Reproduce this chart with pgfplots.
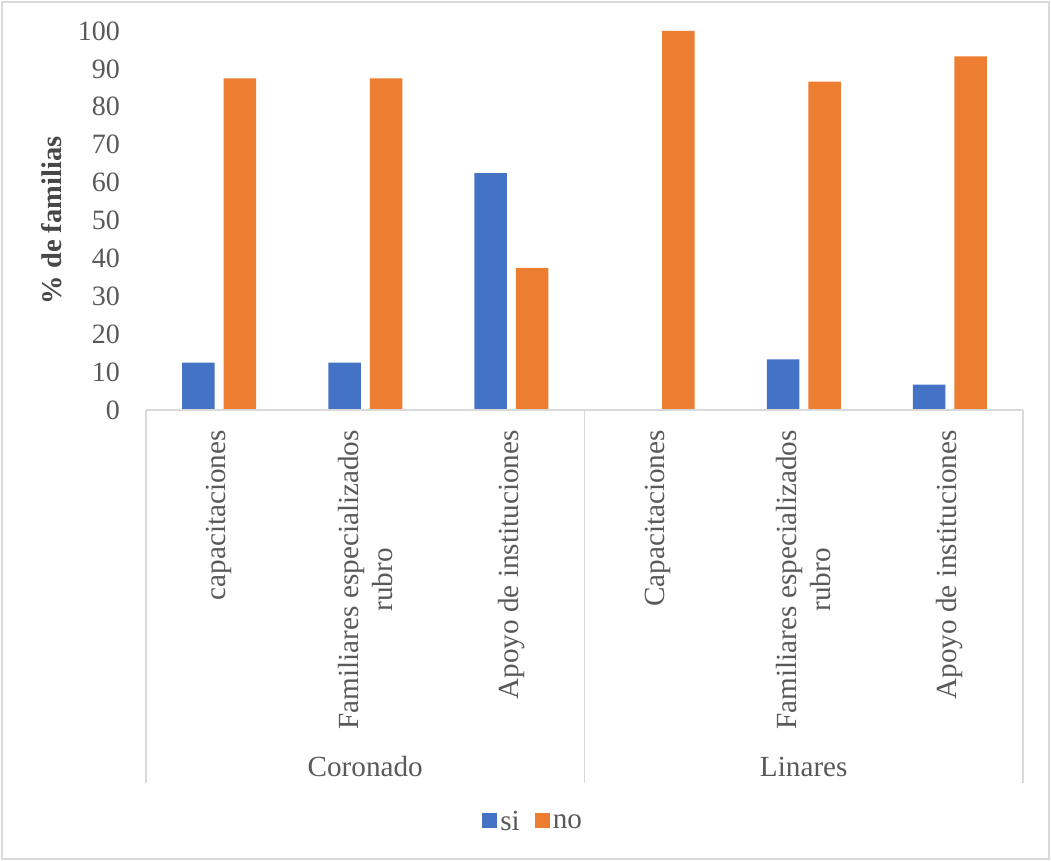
\documentclass[border=0pt]{standalone}
\usepackage{fontspec}
\setmainfont{Liberation Serif}
\usepackage{pgfplots}
\pgfplotsset{compat=1.18}
\definecolor{siblue}{HTML}{4472C4}
\definecolor{noorange}{HTML}{ED7D31}
\definecolor{txtgray}{HTML}{595959}
\definecolor{linegray}{HTML}{D9D9D9}
\newcommand{\tickfont}{\fontsize{28}{33}\selectfont}
\newcommand{\chartfont}{\fontsize{29.2}{34}\selectfont}

\begin{document}
\begin{tikzpicture}
\useasboundingbox (0pt,0pt) rectangle (1051pt,861pt);
\draw[linegray, line width=1.2pt] (2pt,2pt) rectangle (1049pt,859pt);
\begin{axis}[
  at={(146pt,451pt)}, anchor=south west,
  scale only axis, width=877pt, height=379pt,
  xmin=-0.5, xmax=5.5, ymin=0, ymax=100,
  ybar=9pt, bar width=32.5pt,
  clip=false,
  axis x line*=bottom, axis y line*=left,
  x axis line style={draw=none},
  y axis line style={draw=none},
  major tick length=0pt,
  xtick={0,...,5},
  xticklabels={capacitaciones,{Familiares especializados\\rubro},Apoyo de instituciones,Capacitaciones,{Familiares especializados\\rubro},Apoyo de instituciones},
  xticklabel style={rotate=90, anchor=east, align=center, inner sep=0pt, text=txtgray, font=\chartfont},
  xticklabel shift=20pt,
  ytick={0,10,...,100},
  yticklabel style={anchor=east, inner sep=0pt, text=txtgray, font=\tickfont},
  yticklabel shift=26pt,
  /pgf/number format/assume math mode=true,
  ylabel={\textbf{\% de familias}},
  ylabel style={at={(axis description cs:-0.1072,0.5)}, anchor=center, rotate=0, font=\fontsize{28.5}{33}\selectfont, text=txtgray!80!black},
  legend style={at={(axis description cs:0.442,-1.087)}, anchor=center, draw=none, fill=none,
    legend columns=2, font=\chartfont, text=txtgray,
    /tikz/every even column/.append style={column sep=12pt},
    nodes={inner sep=3pt}},
]
\addplot[fill=siblue, draw=none,
  legend image code/.code={\fill[siblue] (0pt,-6pt) rectangle (15pt,9pt);}]
  coordinates {(0,12.5) (1,12.5) (2,62.5) (3,0) (4,13.33) (5,6.67)};
\addlegendentry{si}
\addplot[fill=noorange, draw=none,
  legend image code/.code={\fill[noorange] (0pt,-6pt) rectangle (15pt,9pt);}]
  coordinates {(0,87.5) (1,87.5) (2,37.5) (3,100) (4,86.67) (5,93.33)};
\addlegendentry{no}
% category axis line and group separators
\draw[linegray, line width=1.2pt] (axis cs:-0.5,0) -- (axis cs:5.5,0);
\draw[linegray, line width=1.2pt] (axis cs:-0.5,0) -- ++(0pt,-373pt);
\draw[linegray, line width=1.2pt] (axis cs:2.5,0) -- ++(0pt,-373pt);
\draw[linegray, line width=1.2pt] (axis cs:5.5,0) -- ++(0pt,-373pt);
% group labels
\node[text=txtgray, font=\chartfont, inner sep=0pt] at ([yshift=-357pt]axis cs:1,0) {Coronado};
\node[text=txtgray, font=\chartfont, inner sep=0pt] at ([yshift=-357pt]axis cs:4,0) {Linares};
\end{axis}
\end{tikzpicture}
\end{document}
